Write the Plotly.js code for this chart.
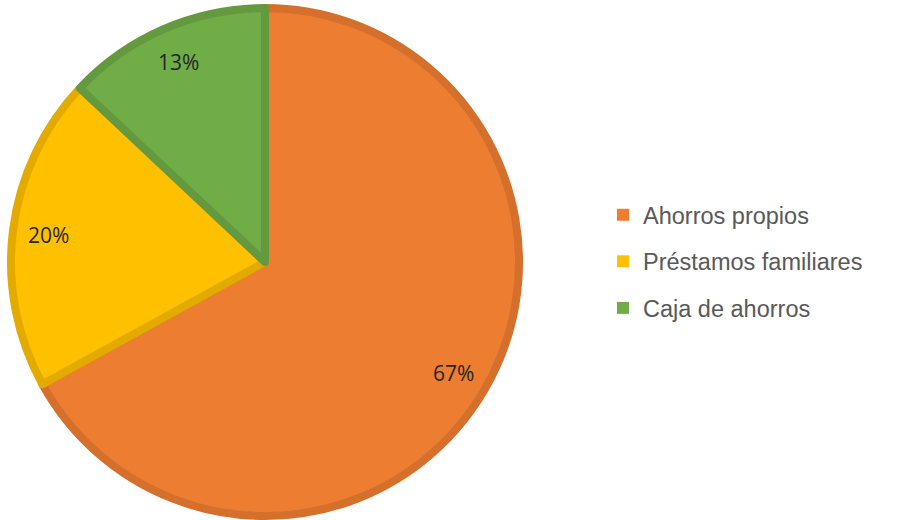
<!DOCTYPE html>
<html>
<head>
<meta charset="utf-8">
<script src="https://cdn.plot.ly/plotly-3.0.1.min.js"></script>
<style>
  html, body { margin: 0; padding: 0; background: #fff; }
  #chart { width: 902px; height: 520px; }
</style>
</head>
<body>
<div id="chart"></div>
<script>
// ── Data ──────────────────────────────────────────────────────
const labels  = ["Ahorros propios", "Préstamos familiares", "Caja de ahorros"];
const values  = [67, 20, 13];
const fills   = ["#ED7D31", "#FFC000", "#70AD47"];
const borders = ["#D4702C", "#E3AB00", "#64993F"];

// ── Geometry (px) ─────────────────────────────────────────────
const W = 902, H = 520;
const CX = 265, CY = 262, R = 254;
const LABEL_R = 0.86;

const total = values.reduce((a, b) => a + b, 0);

// percentage labels placed at each slice's mid-angle
let acc = 0;
const annotations = values.map((v, i) => {
  const mid = (acc + v / 2) / total * 2 * Math.PI;
  acc += v;
  const px = CX + Math.sin(mid) * R * LABEL_R;
  const py = CY - Math.cos(mid) * R * LABEL_R;
  return {
    xref: "paper", yref: "paper",
    x: px / W, y: 1 - py / H,
    xanchor: "center", yanchor: "middle",
    text: Math.round(v / total * 100) + "%",
    showarrow: false,
    font: { family: "Open Sans, Liberation Sans, sans-serif", size: 21, color: "#262626" },
  };
});

const pie = {
  type: "pie",
  labels: labels,
  values: values,
  sort: false,
  direction: "clockwise",
  rotation: 0,
  textinfo: "none",
  hoverinfo: "label+percent",
  showlegend: false,
  marker: { colors: fills, line: { color: borders, width: 8 } },
  domain: {
    x: [(CX - R) / W, (CX + R) / W],
    y: [1 - (CY + R) / H, 1 - (CY - R) / H],
  },
};

// legend entries (one group each so spacing can be set)
const legendTraces = labels.map((lab, i) => ({
  type: "scatter",
  mode: "markers",
  x: [null], y: [null],
  name: lab,
  legendgroup: "g" + i,
  marker: { symbol: "square", size: 12, color: fills[i], line: { width: 0 } },
  hoverinfo: "skip",
}));

Plotly.newPlot("chart", [pie, ...legendTraces], {
  width: W,
  height: H,
  margin: { t: 0, r: 0, b: 0, l: 0 },
  paper_bgcolor: "#fff",
  plot_bgcolor: "#fff",
  xaxis: { visible: false },
  yaxis: { visible: false },
  showlegend: true,
  legend: {
    x: 603 / W, y: 1 - 193 / H,
    xanchor: "left", yanchor: "top",
    traceorder: "grouped",
    tracegroupgap: 13,
    font: { family: "Liberation Sans, Arial, sans-serif", size: 23.5, color: "#595959" },
    bgcolor: "rgba(0,0,0,0)",
  },
  annotations: annotations,
}, { staticPlot: true });
</script>
</body>
</html>
